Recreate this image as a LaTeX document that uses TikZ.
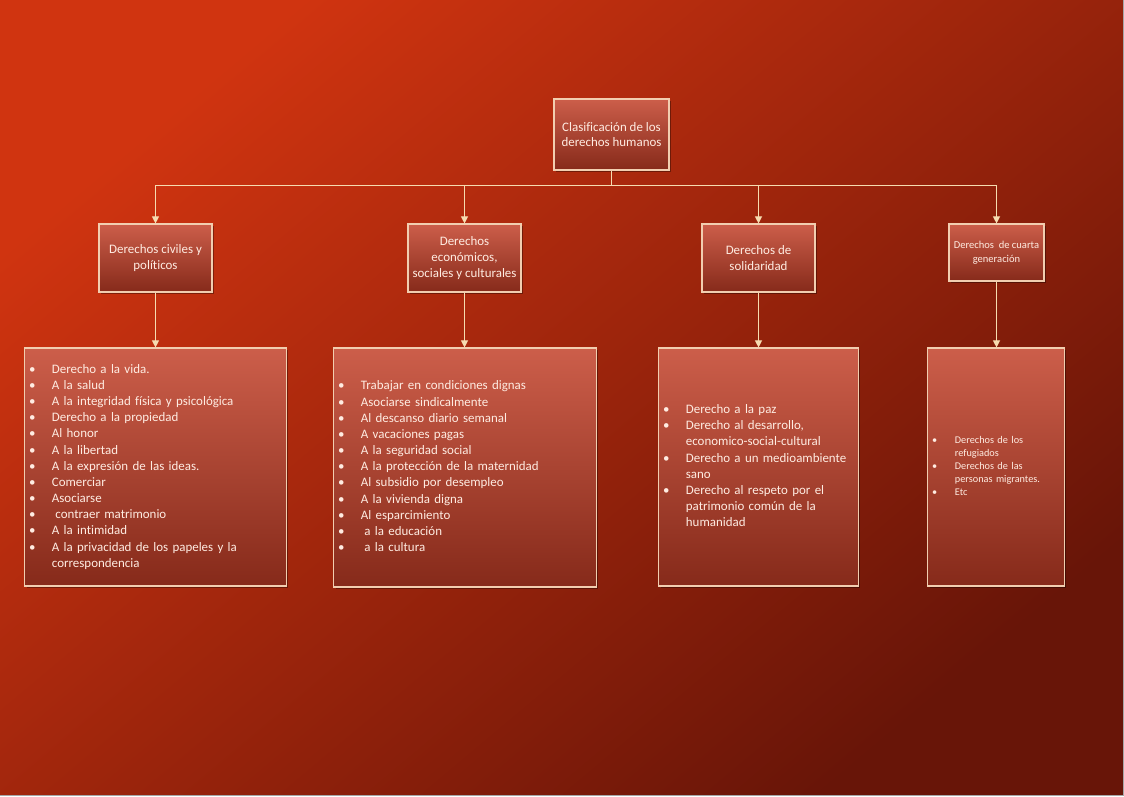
\documentclass[tikz,border=0pt]{standalone}
\usepackage{fontspec}
\setmainfont[Ligatures=CommonOff]{Carlito}
\usetikzlibrary{arrows.meta,shadows}

\definecolor{fondoA}{RGB}{208,52,16}
\definecolor{fondoB}{RGB}{104,21,8}
\definecolor{cajaA}{RGB}{204,94,74}
\definecolor{cajaB}{RGB}{134,42,26}
\definecolor{borde}{RGB}{242,206,176}
\definecolor{linea}{RGB}{246,220,176}
\definecolor{letra}{RGB}{255,236,226}

\newcommand{\px}{0.025cm}
\newcommand{\busOff}{15}
\newcommand{\bulW}{16.3pt}
\newcommand{\itm}[1]{\textbullet & #1\\}
\newcommand{\sig}[1]{ & #1\\}

\tikzset{
  caja/.style={draw=borde, line width=0.8pt, top color=cajaA, bottom color=cajaB,
    text=letra, align=center, inner sep=1pt,
    drop shadow={shadow xshift=1.5pt, shadow yshift=-1.5pt, opacity=0.35, fill=black}},
  titulo/.style={caja, font=\fontsize{9.2}{11.3}\selectfont},
  lista/.style={caja, align=left, inner xsep=3pt},
  conn/.style={draw=linea, line width=0.8pt, -{Triangle[width=5pt,length=5pt]}}
}

\begin{document}
\begin{tikzpicture}[x=\px, y=-\px]
  \useasboundingbox (0,0) rectangle (1124,796);

  % Fondo:
  \path[top color=fondoA, bottom color=fondoB, shading angle=40] (0,0) rectangle (1123,795);
  \draw[gray!70, line width=0.6pt] (1123,0) -- (1123,795) -- (0,795);

  % Raiz:
  \node[titulo, minimum width=115*\px, minimum height=71*\px] (raiz) at (611.5,134.5)
    {Clasificación de los\\derechos humanos};

  % Categorias:
  \node[titulo, minimum width=113*\px, minimum height=68*\px] (civ)  at (155.5,258) {Derechos civiles y\\políticos};
  \node[titulo, minimum width=113*\px, minimum height=68*\px] (econ) at (464.5,258) {Derechos\\económicos,\\sociales y culturales};
  \node[titulo, minimum width=113*\px, minimum height=68*\px] (sol)  at (758.5,258) {Derechos de\\solidaridad};
  \node[caja, font=\fontsize{7.5}{9.9}\selectfont, minimum width=95*\px, minimum height=57*\px] (cuar) at (996.5,252.5)
    {Derechos\ \ de cuarta\\generación};

  % Listas:
  \node[lista, font=\fontsize{9.2}{11.5}\selectfont, text width=253*\px, minimum height=238*\px] (lciv) at (155.5,467)
    {\begin{tabular}{@{}p{\bulW}@{}l@{}}
      \itm{Derecho a la vida.}
      \itm{A la salud}
      \itm{A la integridad física y psicológica}
      \itm{Derecho a la propiedad}
      \itm{Al honor}
      \itm{A la libertad}
      \itm{A la expresión de las ideas.}
      \itm{Comerciar}
      \itm{Asociarse}
      \itm{\hspace{2.5pt}contraer matrimonio}
      \itm{A la intimidad}
      \itm{A la privacidad de los papeles y la}
      \sig{correspondencia}
    \end{tabular}};
  \node[lista, font=\fontsize{9.2}{11.5}\selectfont, text width=254*\px, minimum height=239*\px] (lecon) at (465,467.5)
    {\begin{tabular}{@{}p{\bulW}@{}l@{}}
      \itm{Trabajar en condiciones dignas}
      \itm{Asociarse sindicalmente}
      \itm{Al descanso diario semanal}
      \itm{A vacaciones pagas}
      \itm{A la seguridad social}
      \itm{A la protección de la maternidad}
      \itm{Al subsidio por desempleo}
      \itm{A la vivienda digna}
      \itm{Al esparcimiento}
      \itm{\hspace{2.5pt}a la educación}
      \itm{\hspace{2.5pt}a la cultura}
    \end{tabular}};
  \node[lista, font=\fontsize{9.2}{11.5}\selectfont, text width=191*\px, minimum height=238*\px] (lsol) at (758.5,467)
    {\begin{tabular}{@{}p{\bulW}@{}l@{}}
      \itm{Derecho a la paz}
      \itm{Derecho al desarrollo,}
      \sig{economico-social-cultural}
      \itm{Derecho a un medioambiente}
      \sig{sano}
      \itm{Derecho al respeto por el}
      \sig{patrimonio común de la}
      \sig{humanidad}
    \end{tabular}};
  \node[lista, font=\fontsize{7.3}{9.2}\selectfont, text width=128*\px, minimum height=238*\px] (lcuar) at (996,467)
    {\begin{tabular}{@{}p{\bulW}@{}l@{}}
      \itm{Derechos de los}
      \sig{refugiados}
      \itm{Derechos de las}
      \sig{personas migrantes.}
      \itm{Etc}
    \end{tabular}};

  % Conectores:
  \foreach \cat in {civ, econ, sol, cuar}{
    \draw[conn] (raiz.south) -- ++(0,\busOff) -| (\cat.north);
  }
  \draw[conn] (civ.south)  -- (civ.south  |- lciv.north);
  \draw[conn] (econ.south) -- (econ.south |- lecon.north);
  \draw[conn] (sol.south)  -- (sol.south  |- lsol.north);
  \draw[conn] (cuar.south) -- (cuar.south |- lcuar.north);

\end{tikzpicture}
\end{document}
